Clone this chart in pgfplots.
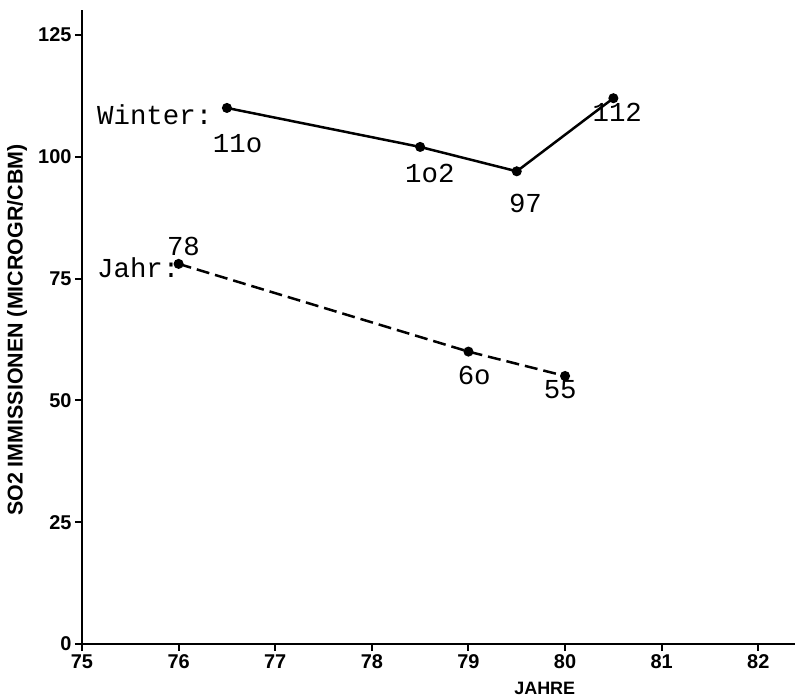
\documentclass[border=0pt]{standalone}
\usepackage{fontspec}
\setmainfont{Liberation Sans}
\newfontfamily\monof{Liberation Mono}
\usepackage{pgfplots}
\pgfplotsset{compat=1.18}
\begin{document}
\begin{tikzpicture}
\begin{axis}[
  scale only axis, width=713bp, height=634bp,
  xmin=75, xmax=82.38, ymin=0, ymax=130.1,
  axis lines=left, axis line style={line width=2bp, -},
  xtick={75,76,77,78,79,80,81,82}, ytick={0,25,50,75,100,125},
  tick style={line width=2bp, black},
  tick align=outside, major tick length=7bp,
  tick label style={font=\fontsize{20}{20}\selectfont\bfseries},
  /pgf/number format/assume math mode=true,
  xlabel={JAHRE},
  xlabel style={at={(rel axis cs:0.649,0)}, anchor=center, yshift=-44bp, font=\fontsize{18}{18}\selectfont\bfseries},
  ylabel={SO2 IMMISSIONEN (MICROGR/CBM)},
  ylabel style={at={(rel axis cs:0,0.495)}, anchor=center, yshift=65bp, font=\fontsize{21.5}{21.5}\selectfont\bfseries},
  clip=false,
]
\addplot[black, line width=2.5bp, mark=*, mark size=3.7bp] coordinates {(76.5,110) (78.5,102) (79.5,97) (80.5,112)};
\addplot[black, line width=2.5bp, dash pattern=on 13bp off 6bp, mark=*, mark size=3.7bp, mark options={solid}] coordinates {(76,78) (79,60) (80,55)};
\node[font=\monof\fontsize{27.5}{27.5}\selectfont, anchor=base west, inner sep=0pt] at (axis cs:75.155,106.7) {Winter:};
\node[font=\monof\fontsize{27.5}{27.5}\selectfont, anchor=base, inner sep=0pt] at (axis cs:76.61,100.8) {11o};
\node[font=\monof\fontsize{27.5}{27.5}\selectfont, anchor=base, inner sep=0pt] at (axis cs:78.60,94.6) {1o2};
\node[font=\monof\fontsize{27.5}{27.5}\selectfont, anchor=base, inner sep=0pt] at (axis cs:79.59,88.5) {97};
\node[font=\monof\fontsize{27.5}{27.5}\selectfont, anchor=base, inner sep=0pt] at (axis cs:80.54,107.3) {112};
\node[font=\monof\fontsize{27.5}{27.5}\selectfont, anchor=base west, inner sep=0pt] at (axis cs:75.155,75.3) {Jahr:};
\node[font=\monof\fontsize{27.5}{27.5}\selectfont, anchor=base, inner sep=0pt] at (axis cs:76.05,79.7) {78};
\node[font=\monof\fontsize{27.5}{27.5}\selectfont, anchor=base, inner sep=0pt] at (axis cs:79.06,53.2) {6o};
\node[font=\monof\fontsize{27.5}{27.5}\selectfont, anchor=base, inner sep=0pt] at (axis cs:79.95,50.3) {55};
\coordinate (BL) at (rel axis cs:0,0);
\end{axis}
\pgfresetboundingbox
\path (BL) ++(-82bp,-53bp) rectangle ++(798bp,697bp);
\end{tikzpicture}
\end{document}
